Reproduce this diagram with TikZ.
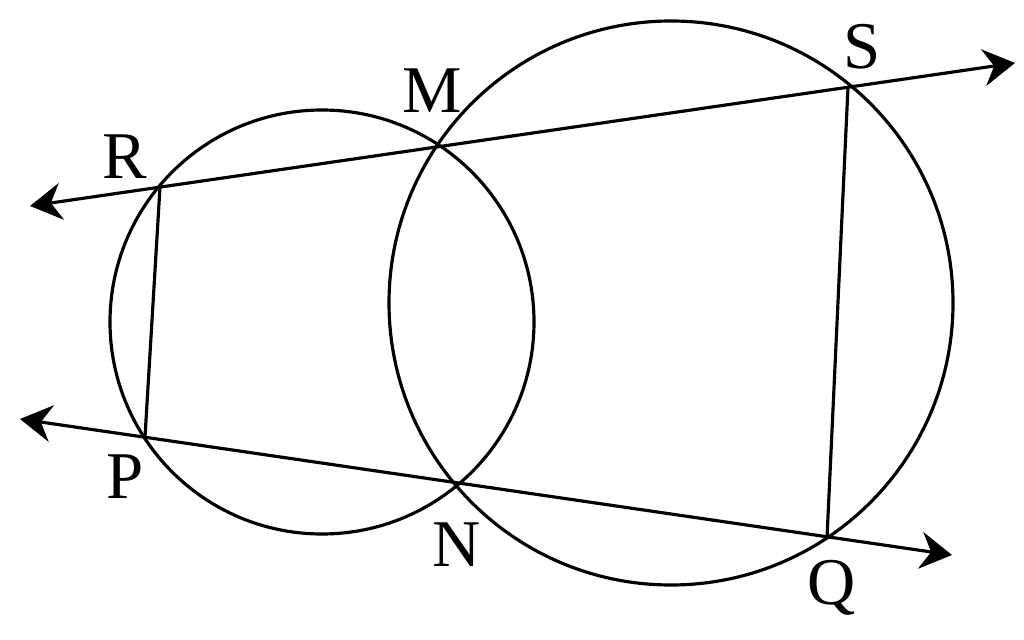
\documentclass[tikz,border=0pt]{standalone}
\usepackage{fontspec}
\setmainfont{Liberation Serif}
\usetikzlibrary{arrows.meta}

\tikzset{
	geo/.style={line width=1.8pt, black},
	ray/.style={geo, {Stealth[length=18pt, width=21pt, inset=6pt]}-{Stealth[length=18pt, width=21pt, inset=6pt]}},
	lbl/.style={font=\fontsize{38}{38}\selectfont, inner sep=0pt}
}

\begin{document}
\begin{tikzpicture}[x=0.02cm, y=0.02cm]
		\useasboundingbox (0,0) rectangle (1024,639);
		% points
		\coordinate (R) at (160,452);
		\coordinate (M) at (439,493);
		\coordinate (S) at (848,552);
		\coordinate (P) at (145,202);
		\coordinate (N) at (458,154);
		\coordinate (Q) at (827,101);
		\coordinate (rsl) at (30,433);
		\coordinate (rsr) at (1015,576);
		\coordinate (pql) at (20,220);
		\coordinate (pqr) at (952,84);
		% circles
		\draw[geo] (322,317) circle[radius=212];
		\draw[geo] (671,336) circle[radius=282];
		% lines
		\draw[ray] (rsl) -- (rsr);
		\draw[ray] (pql) -- (pqr);
		\draw[geo] (R) -- (P);
		\draw[geo] (S) -- (Q);
		% labels
		\node[lbl] (lR) at (125,482) {R};
		\node[lbl] (lM) at (432,548) {M};
		\node[lbl] (lS) at (862,592) {S};
		\node[lbl] (lP) at (125,162) {P};
		\node[lbl] (lN) at (457,94) {N};
		\node[lbl] (lQ) at (832,51) {Q};
		\end{tikzpicture}
\end{document}
